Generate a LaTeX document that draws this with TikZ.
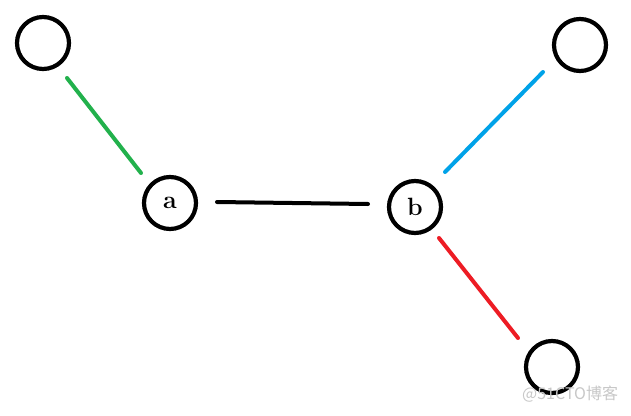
\documentclass[tikz,border=0pt]{standalone}
\usepackage{fontspec}
\newfontfamily\cjkfont{Noto Sans CJK SC}
\definecolor{cgreen}{RGB}{34,177,76}
\definecolor{cblue}{RGB}{0,162,232}
\definecolor{cred}{RGB}{237,28,36}
\begin{document}
\begin{tikzpicture}[x=1pt,y=-1pt,
  vert/.style={circle,draw=black,line width=4.2pt,minimum size=52pt,inner sep=0pt},
  lab/.style={font=\bfseries\fontsize{25pt}{27pt}\selectfont},
  edge/.style={line width=4pt,line cap=round}]
\useasboundingbox (0,0) rectangle (631,415);
\node[vert] (tl) at (43,43) {};
\node[vert,lab] (a) at (170,203) {a};
\node[vert,lab] (b) at (415,207) {b};
\node[vert] (tr) at (580,45) {};
\node[vert] (br) at (552,367) {};
\coordinate (g1) at (67,78);
\coordinate (g2) at (141,173);
\coordinate (k1) at (217,202);
\coordinate (k2) at (368,204);
\coordinate (u1) at (445,172);
\coordinate (u2) at (543,72);
\coordinate (r1) at (439,238);
\coordinate (r2) at (518,338);
\draw[edge,cgreen] (g1) -- (g2);
\draw[edge,black] (k1) -- (k2);
\draw[edge,cblue] (u1) -- (u2);
\draw[edge,cred] (r1) -- (r2);
\node[text=black!22,font=\cjkfont\fontsize{16}{16}\selectfont,anchor=west,inner sep=0pt] (wm) at (522,394) {@51CTO博客};
\end{tikzpicture}
\end{document}
